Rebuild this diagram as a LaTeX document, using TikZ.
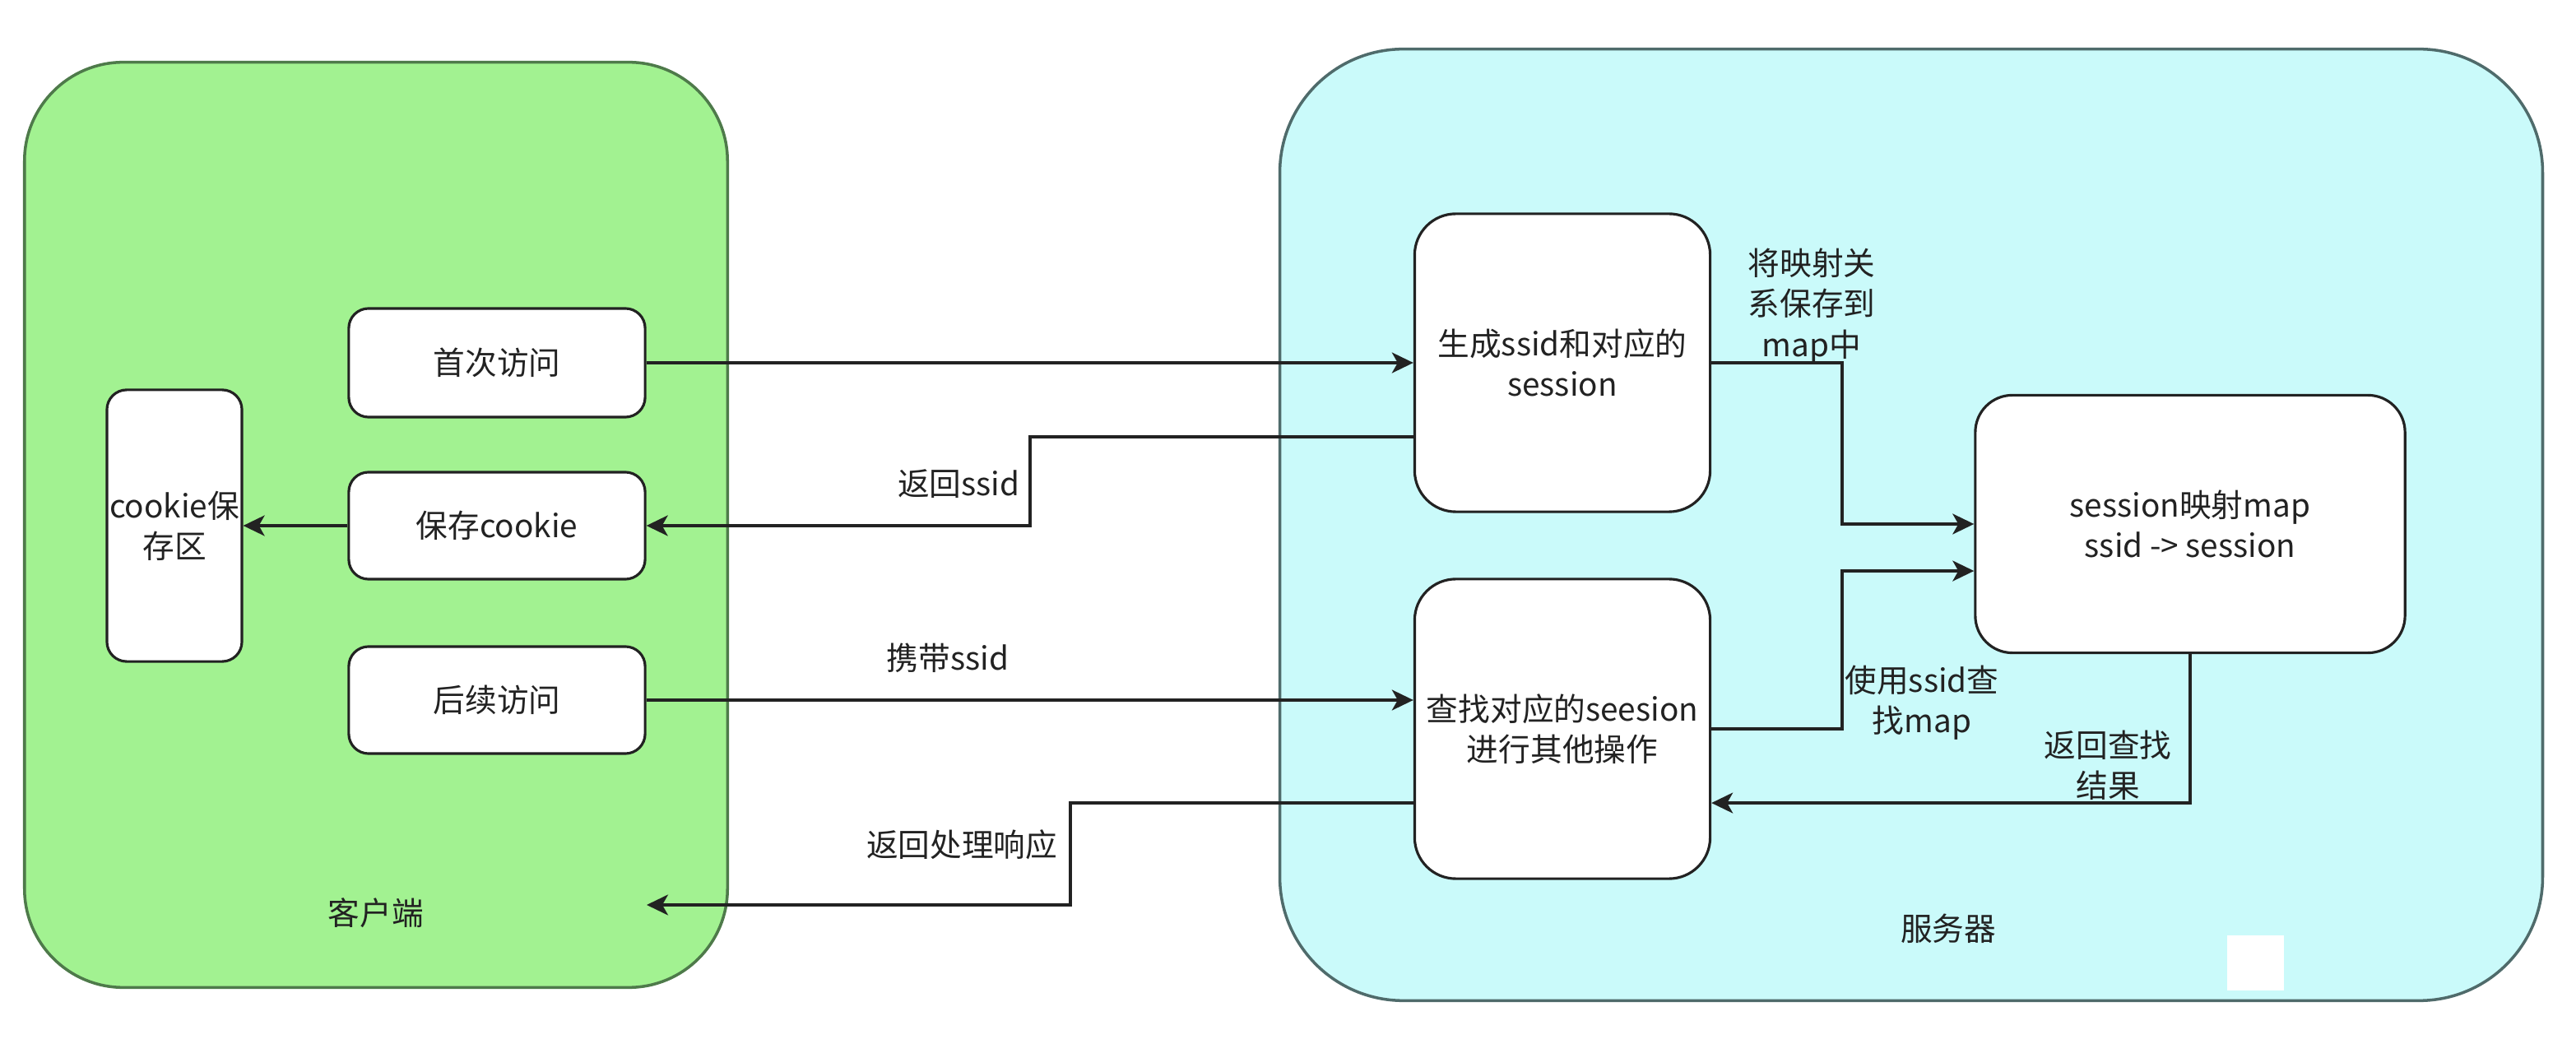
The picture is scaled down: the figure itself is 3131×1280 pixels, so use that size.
\documentclass[tikz,border=0pt]{standalone}
\usepackage{fontspec}
\newfontfamily\cjk{Noto Sans CJK SC}
\usetikzlibrary{arrows.meta}
\definecolor{gfill}{HTML}{A2F291}
\definecolor{gline}{HTML}{4E7A4A}
\definecolor{cfill}{HTML}{CAFAFA}
\definecolor{cline}{HTML}{4F6B6B}
\definecolor{ink}{HTML}{222222}
\begin{document}
\begin{tikzpicture}[x=0.01cm,y=-0.01cm,
  every node/.style={font=\cjk\fontsize{11}{14}\selectfont, text=ink, align=center, inner sep=0pt},
  region/.style={draw, line width=1pt},
  box/.style={draw=ink, fill=white, line width=0.9pt, rounded corners=0.24cm},
  conn/.style={draw=ink, line width=0.9pt, -{Stealth[length=0.26cm,width=0.25cm,inset=0.07cm]}}]
\useasboundingbox[fill=white] (0,0) rectangle (3131,1280);

% regions
\node[region, draw=gline, fill=gfill, minimum width=8.54cm, minimum height=11.24cm, rounded corners=1.2cm] (client) at (457,638) {};
\node[region, draw=cline, fill=cfill, minimum width=15.34cm, minimum height=11.56cm, rounded corners=1.5cm] (server) at (2323,638) {};
\fill[white] (2707,1137) rectangle (2776,1204);

% client nodes
\node[box, minimum width=3.6cm, minimum height=1.32cm] (first) at (604,441) {首次访问};
\node[box, minimum width=3.6cm, minimum height=1.3cm] (save) at (604,639) {保存cookie};
\node[box, minimum width=3.6cm, minimum height=1.3cm] (later) at (604,851) {后续访问};
\node[box, minimum width=1.64cm, minimum height=3.3cm] (store) at (212,639) {cookie保\\存区};
\node (clientlbl) at (457,1110) {客户端};

% server nodes
\node[box, minimum width=3.59cm, minimum height=3.62cm, rounded corners=0.5cm] (gen) at (1899,441) {生成ssid和对应的\\session};
\node[box, minimum width=3.59cm, minimum height=3.64cm, rounded corners=0.5cm] (find) at (1899,886) {查找对应的seesion\\进行其他操作};
\node[box, minimum width=5.22cm, minimum height=3.13cm, rounded corners=0.45cm] (map) at (2662,637) {session映射map\\ssid -> session};
\node (serverlbl) at (2368,1129) {服务器};

% connectors
\draw[conn] (first.east) -- (first.east -| gen.west);
\draw[conn] ([yshift=-0.9cm]gen.west) -| (1252,588) |- (save.east);
\draw[conn] (save.west) -- (store.east);
\draw[conn] (later.east) -- (later.east -| find.west);
\coordinate (resp) at (786,1100);
\draw[conn] ([yshift=-0.9cm]find.west) -| (1301,1040) |- (resp);
\draw[conn] (gen.east) -| (2239,540) |- (map.west);
\draw[conn] (find.east) -| (2239,790) |- ([yshift=-0.57cm]map.west);
\draw[conn] (map.south) |- ([yshift=-0.9cm]find.east);

% labels
\node[anchor=east] (l1) at (1240,588) {返回ssid};
\node (l2) at (1152,800) {携带ssid};
\node[anchor=east] (l3) at (1286,1027) {返回处理响应};
\node (l4) at (2202,372) {将映射关\\系保存到\\map中};
\node (l5) at (2336,854) {使用ssid查\\找map};
\node (l6) at (2562,930) {返回查找\\结果};
\end{tikzpicture}
\end{document}
